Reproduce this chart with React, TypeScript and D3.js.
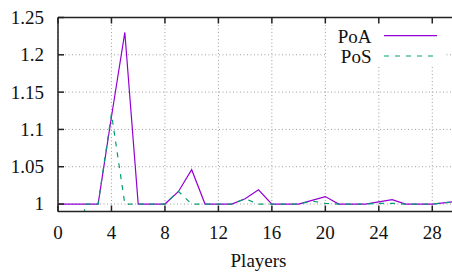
import React from 'react';
import * as d3 from 'd3';

const players = [0, 1, 2, 3, 4, 5, 6, 7, 8, 9, 10, 11, 12, 13, 14, 15, 16, 17, 18, 19, 20, 21, 22, 23, 24, 25, 26, 27, 28, 29, 30];
const poa = [1, 1, 1, 1, 1.117, 1.23, 1, 1, 1, 1.0165, 1.046, 1, 1, 1, 1.007, 1.019, 1, 1, 1, 1.005, 1.01, 1, 1, 1, 1.003, 1.006, 1, 1, 1, 1.002, 1.004];
const pos = [null, 0.5, 1, 1, 1.121, 1, 1, 1, 1, 1.017, 1, 1, 1, 1, 1.007, 1, 1, 1, 1, 1.004, 1.001, 1, 1, 1, 1.001, 1.001, 1, 1, 1, 1.002, 1.003];
const xTicks = [0, 4, 8, 12, 16, 20, 24, 28];
const yTicks = [1, 1.05, 1.1, 1.15, 1.2, 1.25];
const seriesNames = ['PoA', 'PoS'];

const W = 452;
const H = 273;
const left = 58;
const right = 459;
const top = 17.5;
const bottom = 211.5;
const font = "'Liberation Serif', 'Times New Roman', serif";
const fs = 19;

export default function App() {
  const x = d3.scaleLinear().domain([0, 30]).range([left, right]);
  const y = d3.scaleLinear().domain([0.99, 1.25]).range([bottom, top]);

  const mk = (vals: (number | null)[]) =>
    d3
      .line<number>()
      .defined((_, i) => vals[i] != null)
      .x((d) => x(d))
      .y((_, i) => y(vals[i] as number))(players) || '';

  const axisColor = '#222';
  const gridColor = '#a0a0a0';
  const textStyle = { fontFamily: font, fontSize: fs };

  return (
    <svg width={W} height={H} style={{ position: 'absolute', left: 0, top: 0 }}>
      <defs>
        <clipPath id="plot">
          <rect x={left} y={top} width={right - left} height={bottom - top} />
        </clipPath>
      </defs>
      <rect width={W} height={H} fill="#fff" />

      {/* grid */}
      <g stroke={gridColor} strokeWidth={1} strokeDasharray="1,2.5">
        {yTicks.map((t) => (
          <line key={'gy' + t} x1={left} x2={right} y1={y(t)} y2={y(t)} />
        ))}
        {xTicks.map((t) => (
          <line key={'gx' + t} x1={x(t)} x2={x(t)} y1={bottom} y2={top} />
        ))}
      </g>

      {/* legend background hides grid */}
      <rect x={326} y={top + 1} width={120} height={48} fill="#fff" />

      {/* data */}
      <g clipPath="url(#plot)" fill="none">
        <path d={mk(poa)} stroke="#9400d3" strokeWidth={1.2} />
        <path d={mk(pos)} stroke="#009e73" strokeWidth={1.2} strokeDasharray="5,6" />
      </g>

      {/* border and ticks */}
      <g stroke={axisColor} strokeWidth={1.5}>
        <line x1={left} x2={right} y1={bottom} y2={bottom} />
        <line x1={left} x2={right} y1={top} y2={top} />
        <line x1={left} x2={left} y1={top} y2={bottom} />
        {xTicks.map((t) => (
          <g key={'tx' + t}>
            <line x1={x(t)} x2={x(t)} y1={bottom} y2={bottom - 6} />
            <line x1={x(t)} x2={x(t)} y1={top} y2={top + 6} />
          </g>
        ))}
        {yTicks.map((t) => (
          <line key={'ty' + t} x1={left} x2={left + 6} y1={y(t)} y2={y(t)} />
        ))}
      </g>

      {/* tick labels */}
      <g style={textStyle} fill="#111">
        {yTicks.map((t) => (
          <text key={'ly' + t} x={left - 14} y={y(t)} dy="0.34em" textAnchor="end">
            {d3.format('~g')(t)}
          </text>
        ))}
        {xTicks.map((t) => (
          <text key={'lx' + t} x={x(t)} y={239} textAnchor="middle">
            {t}
          </text>
        ))}
        <text x={(left + right) / 2} y={267} textAnchor="middle">
          Players
        </text>
      </g>

      {/* legend */}
      <g style={textStyle} fill="#111">
        <text x={371.5} y={42.5} textAnchor="end">{seriesNames[0]}</text>
        <text x={371.5} y={63.3} textAnchor="end">{seriesNames[1]}</text>
      </g>
      <line x1={384} x2={437} y1={35.7} y2={35.7} stroke="#9400d3" strokeWidth={1.2} />
      <line x1={384} x2={437} y1={56} y2={56} stroke="#009e73" strokeWidth={1.2} strokeDasharray="5,6" />
    </svg>
  );
}
